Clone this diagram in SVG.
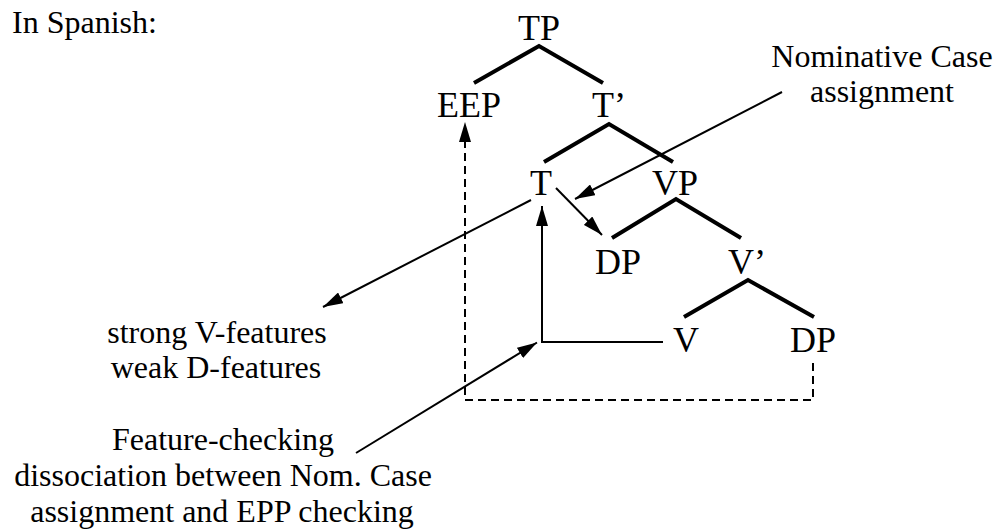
<svg xmlns="http://www.w3.org/2000/svg" width="997" height="531" viewBox="0 0 997 531">
<style>
  text { font-family: "Liberation Serif", "Times New Roman", Tinos, "Nimbus Roman", "DejaVu Serif", "Noto Serif", serif; fill: #000; text-anchor: middle; }
  .node { font-size: 36px; }
  .lbl { font-size: 32px; }
  .branch { fill: none; stroke: #000; stroke-width: 4; stroke-linejoin: miter; }
  .arrow { fill: none; stroke: #000; stroke-width: 2; marker-end: url(#ah); }
  .dashed { stroke-dasharray: 8 5; }
</style>
<defs>
  <marker id="ah" markerUnits="userSpaceOnUse" markerWidth="20" markerHeight="12" refX="20" refY="6" orient="auto">
    <path d="M0,0 L20,6 L0,12 z" fill="#000"/>
  </marker>
</defs>
<rect width="997" height="531" fill="#fff"/>
<text class="lbl" x="12" y="33" style="text-anchor:start">In Spanish:</text>

<g id="TP"><text class="node" x="539" y="40">TP</text>
  <polyline class="branch" points="474,83 539,46 603,83"/></g>
<g id="EEP"><text class="node" x="469" y="117">EEP</text></g>
<g id="Tbar"><text class="node" x="609" y="117">T’</text>
  <polyline class="branch" points="544,162 609,124 673,162"/></g>
<g id="T"><text class="node" x="541" y="195">T</text></g>
<g id="VP"><text class="node" x="675" y="195">VP</text>
  <polyline class="branch" points="612,238 676,199 741,238"/></g>
<g id="DP1"><text class="node" x="618" y="274">DP</text></g>
<g id="Vbar"><text class="node" x="747" y="274">V’</text>
  <polyline class="branch" points="684,317 748,280 814,317"/></g>
<g id="V"><text class="node" x="686" y="352">V</text></g>
<g id="DP2"><text class="node" x="813" y="352">DP</text></g>

<g id="nom-label"><text class="lbl" x="882" y="67">Nominative Case</text>
  <text class="lbl" x="882" y="102">assignment</text></g>
<g id="features-label"><text class="lbl" x="217" y="343">strong V-features</text>
  <text class="lbl" x="216" y="378">weak D-features</text></g>
<g id="dissoc-label"><text class="lbl" x="223" y="450">Feature-checking</text>
  <text class="lbl" x="223" y="486">dissociation between Nom. Case</text>
  <text class="lbl" x="222" y="522">assignment and EPP checking</text></g>

<g id="connectors">
  <line class="arrow" x1="782" y1="92" x2="575" y2="199"/>
  <line class="arrow" x1="556" y1="188" x2="602" y2="235"/>
  <line class="arrow" x1="531" y1="200" x2="323" y2="307"/>
  <path class="arrow" d="M663,342 L542,342 L542,206"/>
  <path class="arrow dashed" d="M813,363 L813,400 L465,400 L465,122"/>
  <line class="arrow" x1="356" y1="453" x2="537" y2="342.5"/>
</g>
</svg>
